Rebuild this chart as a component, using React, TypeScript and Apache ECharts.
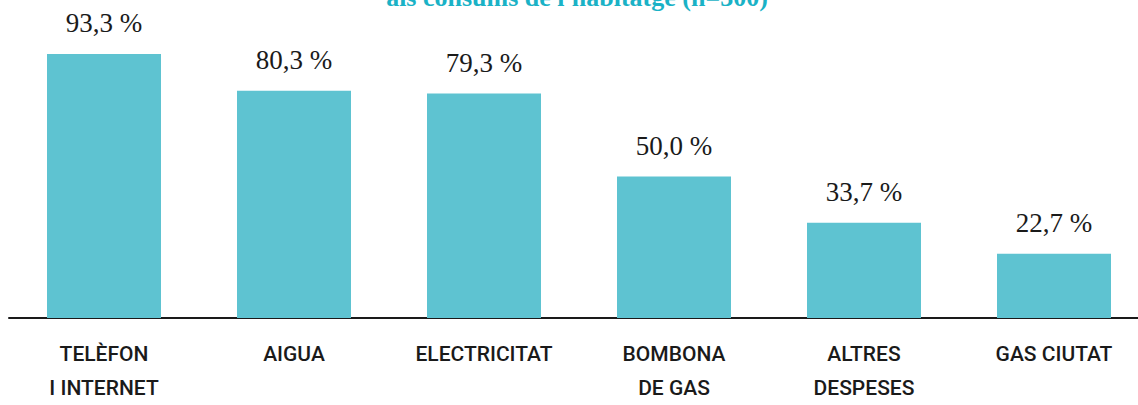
import React, { useEffect, useRef } from "react";
import * as echarts from "echarts";

const categories = [
  "TELÈFON\nI INTERNET",
  "AIGUA",
  "ELECTRICITAT",
  "BOMBONA\nDE GAS",
  "ALTRES\nDESPESES",
  "GAS CIUTAT",
];
const values = [93.3, 80.3, 79.3, 50.0, 33.7, 22.7];
const titleText = "als consums de l'habitatge (n=300)";

export default function App() {
  const ref = useRef<HTMLDivElement>(null);
  useEffect(() => {
    document.body.style.margin = "0";
    const chart = echarts.init(ref.current!, null, { renderer: "svg" });
    chart.setOption({
      animation: false,
      backgroundColor: "#ffffff",
      graphic: [
        {
          type: "text",
          x: 577,
          y: 10,
          style: {
            text: titleText,
            font: "bold 26px 'Liberation Serif', serif",
            fill: "#1ab2c6",
            align: "center",
            verticalAlign: "bottom",
          },
        },
      ],
      grid: { left: 9, width: 1140, top: 35, bottom: 82, containLabel: false },
      xAxis: {
        type: "category",
        data: categories,
        axisLine: { show: true, lineStyle: { color: "#1a1a1a", width: 2 } },
        axisTick: { show: false },
        axisLabel: {
          interval: 0,
          margin: 19,
          color: "#1a1a1a",
          fontFamily: "Roboto, sans-serif",
          fontWeight: 500,
          fontSize: 21,
          lineHeight: 34,
        },
      },
      yAxis: {
        type: "value",
        min: 0,
        max: 100,
        show: false,
        splitLine: { show: false },
      },
      series: [
        {
          type: "bar",
          data: values,
          barWidth: 114,
          itemStyle: { color: "#5ec3d1" },
          label: {
            show: true,
            position: "top",
            distance: 17,
            color: "#1a1a1a",
            fontFamily: "'Liberation Serif', serif",
            fontSize: 27,
            formatter: (p: any) => p.value.toFixed(1).replace(".", ",") + " %",
          },
        },
      ],
    });
    return () => chart.dispose();
  }, []);
  return (
    <div style={{ width: 1138, height: 405, overflow: "hidden", position: "relative" }}>
      <div ref={ref} style={{ width: 1170, height: 405 }} />
    </div>
  );
}
